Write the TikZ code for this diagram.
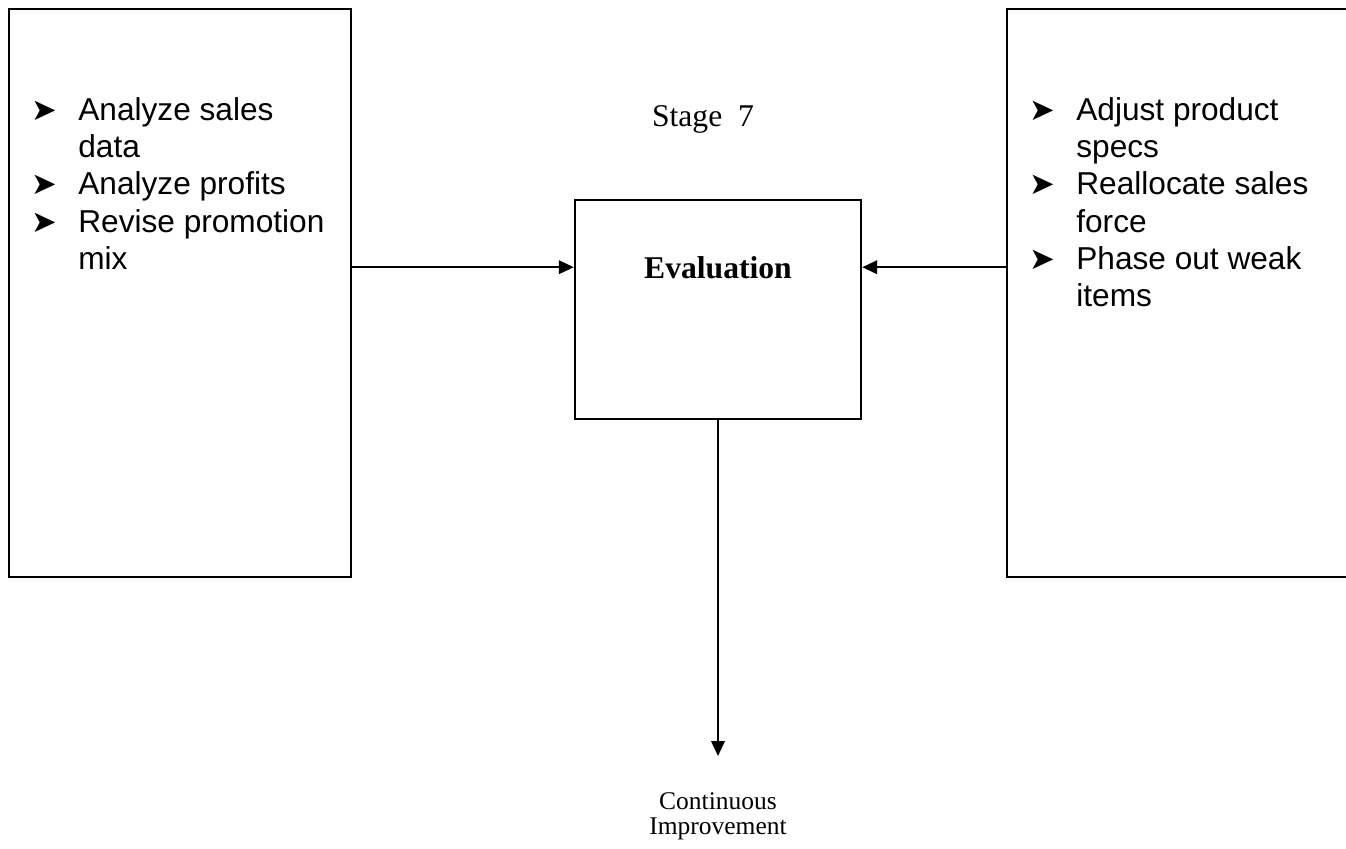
\documentclass[tikz,border=0pt]{standalone}
\usepackage{fontspec}
\setmainfont{Liberation Serif}
\newfontfamily\arialfont{Liberation Sans}
\newfontfamily\dingfont{DejaVu Sans}
\usepackage{tikz}
\usetikzlibrary{arrows.meta,positioning}
\newcommand{\bul}{\makebox[0.94cm][l]{\dingfont\fontsize{17.5}{17.5}\selectfont ➤}}
\newcommand{\ind}{\hspace*{0.94cm}}
\tikzset{
    box/.style={rectangle, draw=black, line width=1.4pt, inner sep=0pt},
    flow/.style={line width=1.3pt, -{Triangle[length=0.3cm,width=0.27cm]}},
    points/.style={anchor=north west, inner sep=0pt, align=left, font=\arialfont\fontsize{18}{21.2}\selectfont},
    caption/.style={inner sep=0pt, font=\fontsize{18}{20}\selectfont},
}

\begin{document}
\begin{tikzpicture}
    \useasboundingbox (0,0) rectangle (26.92,16.96);
    \clip (0,0) rectangle (26.92,16.96);

    % Boxes
    \node[box, minimum width=6.84cm, minimum height=11.36cm] (leftbox) at (3.6,11.1) {};
    \node[box, minimum width=5.72cm, minimum height=4.38cm] (evalbox) at (14.36,10.77) {};
    \node[box, minimum width=7.16cm, minimum height=11.36cm] (rightbox) at (23.72,11.1) {};

    % Titles
    \node[caption, anchor=base] (stage) at (14.06,14.42) {Stage\ \ 7};
    \node[caption, anchor=base, font=\bfseries\fontsize{18}{20}\selectfont] (evaltext) at (14.36,11.4) {Evaluation};

    % Bullet lists
    \node[points] (leftlist) at (0.62,15.02) {\bul Analyze sales\\ \ind data\\ \bul Analyze profits\\ \bul Revise promotion\\ \ind mix};
    \node[points] (rightlist) at (20.58,15.02) {\bul Adjust product\\ \ind specs\\ \bul Reallocate sales\\ \ind force\\ \bul Phase out weak\\ \ind items};

    % Arrows
    \draw[flow] (leftbox.east |- evaltext) -- (evalbox.west |- evaltext);
    \draw[flow] (rightbox.west |- evaltext) -- (evalbox.east |- evaltext);
    \coordinate (tip) at (14.36,1.84);
    \draw[flow] (evalbox.south) -- (tip);
    \node[caption, align=center, font=\fontsize{14.5}{14.5}\selectfont, below=0.72cm of tip] (improve) {Continuous\\Improvement};
\end{tikzpicture}
\end{document}
